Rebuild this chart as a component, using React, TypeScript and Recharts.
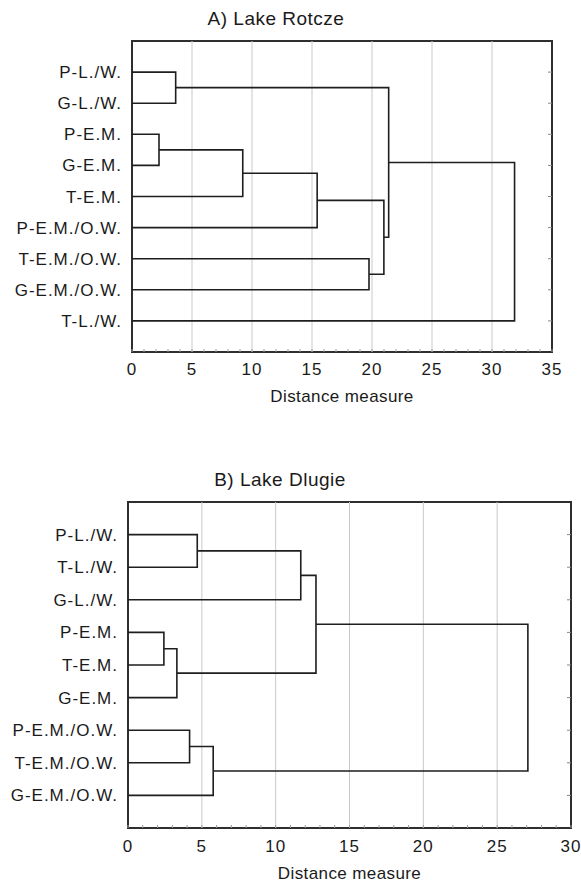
import {
  ComposedChart,
  Scatter,
  XAxis,
  YAxis,
  ReferenceArea,
  ReferenceLine,
} from 'recharts';

// A) Lake Rotcze
const leavesA = ['P-L./W.', 'G-L./W.', 'P-E.M.', 'G-E.M.', 'T-E.M.', 'P-E.M./O.W.', 'T-E.M./O.W.', 'G-E.M./O.W.', 'T-L./W.'];
// node ids: 0..8 leaves, 9+ merges in order
const pairsA = [[0, 1], [2, 3], [10, 4], [11, 5], [6, 7], [12, 13], [9, 14], [15, 8]];
const heightsA = [3.64, 2.25, 9.23, 15.43, 19.75, 20.99, 21.39, 31.88];
const ticksA = [0, 5, 10, 15, 20, 25, 30, 35];

// B) Lake Dlugie
const leavesB = ['P-L./W.', 'T-L./W.', 'G-L./W.', 'P-E.M.', 'T-E.M.', 'G-E.M.', 'P-E.M./O.W.', 'T-E.M./O.W.', 'G-E.M./O.W.'];
const pairsB = [[0, 1], [9, 2], [3, 4], [11, 5], [10, 12], [6, 7], [14, 8], [13, 15]];
const heightsB = [4.69, 11.7, 2.43, 3.31, 12.73, 4.17, 5.77, 27.08];
const ticksB = [0, 5, 10, 15, 20, 25, 30];

const FONT = "'Liberation Sans', Arial, sans-serif";
const INK = '#1a1a1a';

type Pt = { x: number; y: number };

function buildLinks(leaves: string[], pairs: number[][], heights: number[]) {
  const pos: Pt[] = leaves.map((_, i) => ({ x: 0, y: i + 1 }));
  const links: Pt[][] = [];
  pairs.forEach(([a, b], k) => {
    const pa = pos[a];
    const pb = pos[b];
    const h = heights[k];
    links.push([
      { x: pa.x, y: pa.y },
      { x: h, y: pa.y },
      { x: h, y: pb.y },
      { x: pb.x, y: pb.y },
    ]);
    pos.push({ x: h, y: (pa.y + pb.y) / 2 });
  });
  return links;
}

interface DendroProps {
  leaves: string[];
  pairs: number[][];
  heights: number[];
  ticks: number[];
  width: number;
  height: number;
  top: number;
  leftW: number;
  rightW: number;
  axisH: number;
  tickGap: number;
  labelOffset: number;
}

function Dendrogram(p: DendroProps) {
  const links = buildLinks(p.leaves, p.pairs, p.heights);
  const xMax = p.ticks[p.ticks.length - 1];
  const rows = p.leaves.map((_, i) => i + 1);
  const minor = Array.from({ length: xMax + 1 }, (_, i) => i);
  const major = (v: number) => (p.ticks.includes(v) ? String(v) : '');
  return (
    <ComposedChart
      width={p.width}
      height={p.height}
      margin={{ top: p.top, right: 0, bottom: 0, left: 0 }}
    >
      {p.ticks.slice(1, -1).map((t) => (
        <ReferenceLine key={`g-${t}`} x={t} stroke="#c9c9c9" strokeWidth={1} />
      ))}
      <XAxis
        type="number"
        dataKey="x"
        domain={[0, xMax]}
        ticks={minor}
        interval={0}
        allowDataOverflow
        height={p.axisH}
        axisLine={false}
        tickLine={{ stroke: '#999' }}
        tickSize={-3}
        tickMargin={p.tickGap + 3}
        tickFormatter={major}
        tick={{ fill: INK, fontSize: 17, fontFamily: FONT, letterSpacing: 1 }}
        label={{
          value: 'Distance measure',
          position: 'insideBottom',
          offset: p.labelOffset,
          fill: INK,
          fontSize: 17,
          fontFamily: FONT,
          letterSpacing: 0.4,
        }}
      />
      <XAxis
        xAxisId="top"
        orientation="top"
        type="number"
        domain={[0, xMax]}
        ticks={minor}
        interval={0}
        allowDataOverflow
        height={0}
        axisLine={false}
        tickLine={{ stroke: '#999' }}
        tickSize={-3}
        tickFormatter={() => ''}
      />
      <YAxis
        type="number"
        dataKey="y"
        domain={[0, 10]}
        reversed
        ticks={rows}
        interval={0}
        allowDataOverflow
        width={p.leftW}
        axisLine={false}
        tickLine={false}
        tickSize={0}
        tickMargin={10}
        tickFormatter={(v: number) => p.leaves[v - 1] ?? ''}
        tick={{ fill: INK, fontSize: 17, fontFamily: FONT, letterSpacing: 1 }}
      />
      <YAxis
        yAxisId="r"
        orientation="right"
        type="number"
        domain={[0, 10]}
        reversed
        ticks={rows}
        interval={0}
        allowDataOverflow
        width={p.rightW}
        axisLine={false}
        tickSize={-4}
        tickLine={{ stroke: '#888' }}
        tickFormatter={() => ''}
      />
      {links.map((pts, i) => (
        <Scatter
          key={`link-${i}`}
          data={pts}
          fill="#1e1e1e"
          line={{ stroke: '#1e1e1e', strokeWidth: 1.6 }}
          lineType="joint"
          shape={() => <g />}
          legendType="none"
          isAnimationActive={false}
        />
      ))}
      <ReferenceArea
        x1={0}
        x2={xMax}
        y1={0}
        y2={10}
        fill="none"
        fillOpacity={0}
        stroke="#2e2e2e"
        strokeWidth={2}
        ifOverflow="visible"
      />
    </ComposedChart>
  );
}

const titleStyle = {
  position: 'absolute' as const,
  left: 0,
  textAlign: 'center' as const,
  fontFamily: FONT,
  fontSize: 19,
  letterSpacing: 0.5,
  color: INK,
  lineHeight: '22px',
};

export default function App() {
  return (
    <div style={{ position: 'absolute', left: 0, top: 0, width: 581, height: 884, background: '#fff' }}>
      <div style={{ ...titleStyle, top: 8, width: 552 }}>A) Lake Rotcze</div>
      <div style={{ position: 'absolute', left: 0, top: 0 }}>
        <Dendrogram
          leaves={leavesA}
          pairs={pairsA}
          heights={heightsA}
          ticks={ticksA}
          width={581}
          height={420}
          top={41}
          leftW={132}
          rightW={29}
          axisH={68}
          tickGap={10.5}
          labelOffset={18}
        />
      </div>
      <div style={{ ...titleStyle, top: 469, width: 560 }}>B) Lake Dlugie</div>
      <div style={{ position: 'absolute', left: 0, top: 460 }}>
        <Dendrogram
          leaves={leavesB}
          pairs={pairsB}
          heights={heightsB}
          ticks={ticksB}
          width={581}
          height={424}
          top={42}
          leftW={128}
          rightW={10}
          axisH={56}
          tickGap={11.8}
          labelOffset={5}
        />
      </div>
    </div>
  );
}
